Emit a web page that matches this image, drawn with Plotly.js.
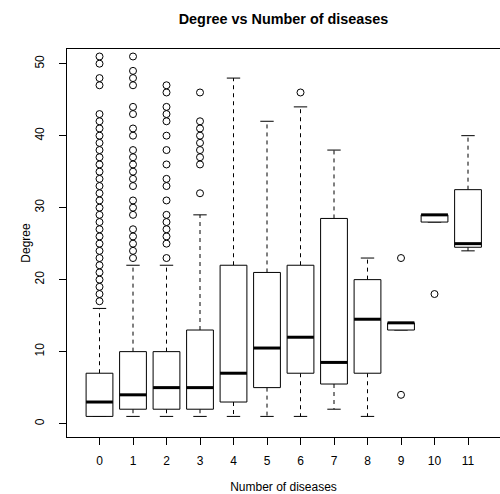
<!DOCTYPE html>
<html>
<head>
<meta charset="utf-8">
<script src="https://cdn.plot.ly/plotly-3.0.1.min.js"></script>
<style>html,body{margin:0;padding:0;background:#fff;overflow:hidden}</style>
</head>
<body>
<div id="chart" style="width:500px;height:494px"></div>
<script>
const categories = ['0','1','2','3','4','5','6','7','8','9','10','11'];
const q1 = [1, 2, 2, 2, 3, 5, 7, 5.5, 7, 13, 28, 24.5];
const medians = [3, 4, 5, 5, 7, 10.5, 12, 8.5, 14.5, 14, 29, 25];
const q3 = [7, 10, 10, 13, 22, 21, 22, 28.5, 20, 14, 29, 32.5];
const lowerWhisker = [1, 1, 1, 1, 1, 1, 1, 2, 1, 13, 28, 24];
const upperWhisker = [16, 22, 22, 29, 48, 42, 44, 38, 23, 14, 29, 40];
const outliers0 = [17,18,19,20,21,22,23,24,25,26,27,28,29,30,31,32,33,34,35,36,37,38,39,40,41,42,43,47,48,50,51];
const outliers1 = [23,24,25,26,27,29,30,31,33,34,35,36,37,38,40,41,43,44,47,48,49,51];
const outliers2 = [23,25,26,27,28,29,31,33,34,36,38,40,42,43,44,46,47];
const outliers3 = [32,36,37,38,39,40,41,42,46];
const outliers4 = [];
const outliers5 = [];
const outliers6 = [46];
const outliers7 = [];
const outliers8 = [];
const outliers9 = [4,23];
const outliers10 = [18];
const outliers11 = [];
const outlierLists = [outliers0,outliers1,outliers2,outliers3,outliers4,outliers5,outliers6,outliers7,outliers8,outliers9,outliers10,outliers11];

const halfBox = 0.4, halfStaple = 0.2;
const boxX = [], boxY = [], medX = [], medY = [], whX = [], whY = [], stX = [], stY = [], oX = [], oY = [];
categories.forEach((c, i) => {
  boxX.push(i-halfBox, i+halfBox, i+halfBox, i-halfBox, i-halfBox, null);
  boxY.push(q1[i], q1[i], q3[i], q3[i], q1[i], null);
  medX.push(i-halfBox, i+halfBox, null);
  medY.push(medians[i], medians[i], null);
  whX.push(i, i, null, i, i, null);
  whY.push(q3[i], upperWhisker[i], null, q1[i], lowerWhisker[i], null);
  stX.push(i-halfStaple, i+halfStaple, null, i-halfStaple, i+halfStaple, null);
  stY.push(upperWhisker[i], upperWhisker[i], null, lowerWhisker[i], lowerWhisker[i], null);
  outlierLists[i].forEach(v => { oX.push(i); oY.push(v); });
});

const black = '#000';
const traces = [
  {x: whX, y: whY, mode: 'lines', line: {color: black, width: 1, dash: '4px,4px'}, hoverinfo: 'skip'},
  {x: stX, y: stY, mode: 'lines', line: {color: black, width: 1}, hoverinfo: 'skip'},
  {x: boxX, y: boxY, mode: 'lines', fill: 'toself', fillcolor: '#fff', line: {color: black, width: 1}, hoverinfo: 'skip'},
  {x: medX, y: medY, mode: 'lines', line: {color: black, width: 3}, hoverinfo: 'skip'},
  {x: oX, y: oY, mode: 'markers', marker: {symbol: 'circle-open', size: 7, color: black, line: {width: 1, color: black}}}
];

const font = {family: '"Liberation Sans", Arial, Helvetica, sans-serif', color: black, size: 12};
const layout = {
  width: 500, height: 494,
  margin: {l: 67, r: 0, t: 49, b: 57},
  paper_bgcolor: '#fff', plot_bgcolor: '#fff',
  showlegend: false,
  font: font,
  title: {text: '<b>Degree vs Number of diseases</b>', font: {family: font.family, size: 14.4, color: black}, x: 0.5, xref: 'paper', xanchor: 'center', y: 1 - 19/494, yref: 'container', yanchor: 'middle'},
  xaxis: {
    range: [-0.97, 11.955], tickmode: 'array', tickvals: categories.map((c, i) => i), ticktext: categories,
    showgrid: false, zeroline: false, showline: true, mirror: true, linecolor: black, linewidth: 1,
    ticks: 'outside', ticklen: 7, tickwidth: 1, tickcolor: black, ticklabelstandoff: 6,
    title: {text: 'Number of diseases', font: font, standoff: 21}
  },
  yaxis: {
    range: [-1.86, 52.04], tickmode: 'array', tickvals: [0,10,20,30,40,50],
    showgrid: false, zeroline: false, showline: true, linecolor: black, linewidth: 1,
    ticks: 'outside', ticklen: 7, tickwidth: 1, tickcolor: black, tickangle: -90, ticklabelstandoff: 10,
    title: {text: 'Degree', font: font, standoff: 0}
  }
};
Plotly.newPlot('chart', traces, layout, {displayModeBar: false, staticPlot: true});
</script>
</body>
</html>
